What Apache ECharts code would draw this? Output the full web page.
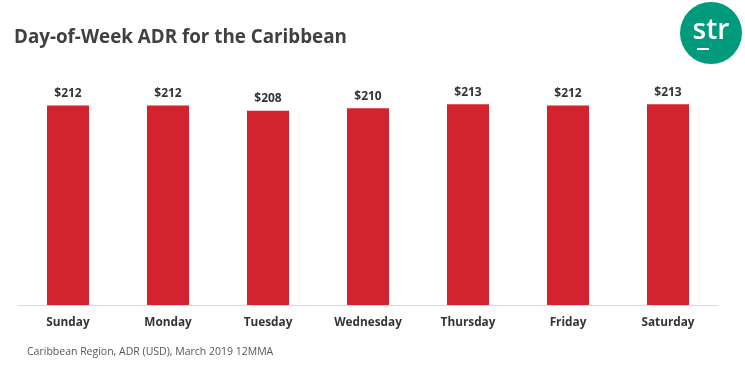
<!DOCTYPE html>
<html><head><meta charset="utf-8">
<script src="https://cdn.jsdelivr.net/npm/echarts@6/dist/echarts.min.js"></script>
<style>html,body{margin:0;padding:0;background:#fff}#c{width:745px;height:365px}</style>
</head><body><div id="c"></div>
<script>
const categories = ['Sunday','Monday','Tuesday','Wednesday','Thursday','Friday','Saturday'];
const adrValues = [212, 212, 208, 210, 213, 212, 213];
const titleText = 'Day-of-Week ADR for the Caribbean';
const footnoteText = 'Caribbean Region, ADR (USD), March 2019 12MMA';

const chart = echarts.init(document.getElementById('c'));
chart.setOption({
  animation: false,
  backgroundColor: '#fff',
  title: {
    text: titleText, left: 9, top: 23,
    textStyle: {fontFamily: 'Open Sans', fontWeight: 'bold', fontSize: 18.8, color: '#404040'}
  },
  grid: {left: 18, right: 27, top: 95, bottom: 60},
  xAxis: {
    type: 'category', data: categories,
    axisLine: {lineStyle: {color: '#d9d9d9', width: 1}},
    axisTick: {show: false},
    axisLabel: {margin: 12, fontFamily: 'Open Sans', fontWeight: 'bold', fontSize: 11.8, color: '#333'}
  },
  yAxis: {type: 'value', min: 60, max: 220, show: false, splitLine: {show: false}},
  series: [{
    type: 'bar', data: adrValues, barWidth: 42,
    itemStyle: {color: '#d2232f'},
    label: {show: true, position: 'top', distance: 6, formatter: p => '$' + p.value,
      fontFamily: 'Open Sans', fontWeight: 'bold', fontSize: 12, color: '#333'}
  }],
  graphic: [
    {type: 'text', left: 27, top: 347,
     style: {text: footnoteText, fontFamily: 'Open Sans', fontSize: 10.5, fill: '#555'}},
    {type: 'circle', shape: {cx: 711, cy: 33, r: 31}, style: {fill: '#009b7d'}},
    {type: 'text', style: {text: 'str', x: 711, y: 31, align: 'center', verticalAlign: 'middle',
      fontFamily: 'Open Sans', fontWeight: 600, fontSize: 28, fill: '#fff'}},
    {type: 'rect', shape: {x: 697, y: 48, width: 12, height: 2}, style: {fill: '#fff'}}
  ]
});
</script></body></html>
